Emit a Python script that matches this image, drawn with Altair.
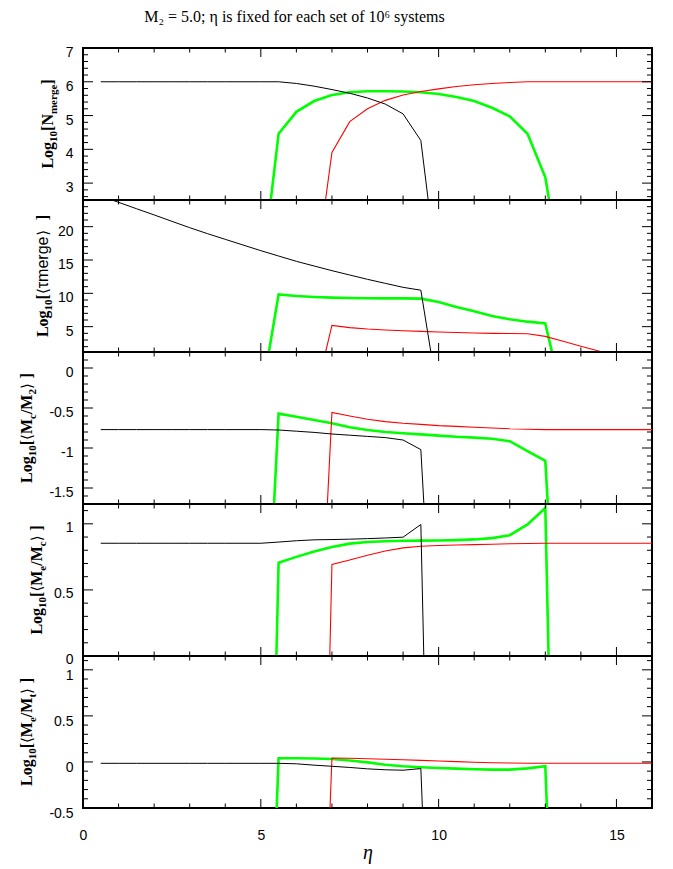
import altair as alt
import pandas as pd

# ---------------- data ----------------
X_BLACK = [0.5, 1.0, 1.5, 2.0, 2.5, 3.0, 3.5, 4.0, 4.5, 5.0, 5.5, 6.0, 6.5, 7.0, 7.5, 8.0, 8.5, 9.0, 9.5, 10.0]
X_GREEN = [5.0, 5.5, 6.0, 6.5, 7.0, 7.5, 8.0, 8.5, 9.0, 9.5, 10.0, 10.5, 11.0, 11.5, 12.0, 12.5, 13.0, 13.5]
X_RED = [6.5, 7.0, 7.5, 8.0, 8.5, 9.0, 9.5, 10.0, 10.5, 11.0, 11.5, 12.0, 12.5, 13.0, 13.5, 14.0, 14.5, 15.0, 15.5, 16.0]

# panel 1: Log10[N_merge]
NMERGE_BLACK = [6.0, 6.0, 6.0, 6.0, 6.0, 6.0, 6.0, 6.0, 6.0, 6.0, 6.0, 5.95, 5.87, 5.77, 5.66, 5.52, 5.34, 5.05, 4.26, 0.0]
NMERGE_GREEN = [0.0, 4.46, 5.11, 5.43, 5.61, 5.69, 5.72, 5.72, 5.71, 5.69, 5.64, 5.55, 5.43, 5.23, 4.98, 4.46, 3.17, 0.0]
NMERGE_RED = [0.0, 3.91, 4.82, 5.2, 5.45, 5.61, 5.71, 5.79, 5.86, 5.91, 5.95, 5.98, 6.0, 6.0, 6.0, 6.0, 6.0, 6.0, 6.0, 6.0]

# panel 2: Log10[<tau merge>]
TAU_BLACK = [24.6, 23.65, 22.7, 21.76, 20.8, 19.85, 18.95, 18.1, 17.25, 16.4, 15.6, 14.8, 14.1, 13.4, 12.75, 12.1, 11.5, 10.9, 10.47, -6.0]
TAU_GREEN = [-6.0, 9.85, 9.6, 9.45, 9.35, 9.3, 9.27, 9.25, 9.25, 9.2, 8.7, 7.95, 7.3, 6.6, 6.1, 5.75, 5.5, -6.0]
TAU_RED = [-6.0, 5.2, 4.85, 4.64, 4.5, 4.38, 4.29, 4.2, 4.12, 4.06, 4.0, 3.97, 3.94, 3.54, 2.8, 2.07, 1.34, 0.61, -0.12, -0.85]

# panel 3: Log10[<Mc/M2>]
MCM2_BLACK = [-0.77, -0.77, -0.77, -0.77, -0.77, -0.77, -0.77, -0.77, -0.77, -0.77, -0.775, -0.79, -0.805, -0.825, -0.84, -0.855, -0.87, -0.9, -1.02, -5.0]
MCM2_GREEN = [-5.0, -0.57, -0.61, -0.65, -0.69, -0.74, -0.775, -0.8, -0.815, -0.83, -0.845, -0.86, -0.87, -0.885, -0.915, -1.04, -1.16, -5.0]
MCM2_RED = [-5.0, -0.555, -0.6, -0.64, -0.67, -0.69, -0.705, -0.72, -0.73, -0.74, -0.75, -0.76, -0.765, -0.77, -0.77, -0.77, -0.77, -0.77, -0.77, -0.77]

# panel 4: Log10[<Me/Mc>]
MEMC_BLACK = [0.853, 0.853, 0.853, 0.853, 0.853, 0.853, 0.853, 0.853, 0.853, 0.853, 0.862, 0.872, 0.879, 0.881, 0.884, 0.888, 0.893, 0.899, 0.995, -5.0]
MEMC_GREEN = [-5.0, 0.705, 0.75, 0.79, 0.825, 0.85, 0.862, 0.868, 0.872, 0.873, 0.874, 0.877, 0.882, 0.892, 0.914, 0.995, 1.12, -5.0]
MEMC_RED = [-5.0, 0.692, 0.727, 0.762, 0.795, 0.818, 0.83, 0.836, 0.84, 0.843, 0.846, 0.849, 0.851, 0.853, 0.853, 0.853, 0.853, 0.853, 0.853, 0.853]

# panel 5: Log10[<Me/Mt>]
MEMT_BLACK = [-0.015, -0.015, -0.015, -0.015, -0.015, -0.015, -0.015, -0.015, -0.015, -0.015, -0.015, -0.02, -0.035, -0.047, -0.06, -0.075, -0.085, -0.09, -0.072, -5.0]
MEMT_GREEN = [-5.0, 0.04, 0.04, 0.038, 0.032, 0.015, -0.005, -0.03, -0.047, -0.058, -0.066, -0.073, -0.079, -0.083, -0.083, -0.07, -0.047, -5.0]
MEMT_RED = [-5.0, 0.043, 0.04, 0.035, 0.03, 0.024, 0.017, 0.01, 0.003, -0.003, -0.008, -0.012, -0.014, -0.015, -0.015, -0.015, -0.015, -0.015, -0.015, -0.015]

# ticks / labels
X_LABELS = [0, 5, 10, 15]
X_MAJOR = [0, 5, 10, 15]
X_MINOR = [1, 2, 3, 4, 6, 7, 8, 9, 11, 12, 13, 14]

P1_LABELS = [3, 4, 5, 6, 7]
P1_MINOR = [2.6, 2.8, 3.2, 3.4, 3.6, 3.8, 4.2, 4.4, 4.6, 4.8, 5.2, 5.4, 5.6, 5.8, 6.2, 6.4, 6.6, 6.8]
P2_LABELS = [5, 10, 15, 20]
P2_MINOR = [2, 3, 4, 6, 7, 8, 9, 11, 12, 13, 14, 16, 17, 18, 19, 21, 22, 23]
P3_LABELS = [-1.5, -1, -0.5, 0]
P3_MINOR = [-1.6, -1.4, -1.3, -1.2, -1.1, -0.9, -0.8, -0.7, -0.6, -0.4, -0.3, -0.2, -0.1, 0.1]
P4_LABELS = [0, 0.5, 1]
P4_MINOR = [0.1, 0.2, 0.3, 0.4, 0.6, 0.7, 0.8, 0.9, 1.1]
P5_LABELS = [-0.5, 0, 0.5, 1]
P5_MINOR = [-0.4, -0.3, -0.2, -0.1, 0.1, 0.2, 0.3, 0.4, 0.6, 0.7, 0.8, 0.9, 1.1]

TITLE = "M₂ = 5.0; η is fixed for each set of 10⁶ systems"

# ---------------- styling helpers ----------------
W, H = 569, 152
MAIN = dict(font="Liberation Serif", fontWeight="bold", fontSize=16)
SUB = dict(font="Liberation Serif", fontWeight="bold", fontSize=11)
SANS = dict(font="Liberation Sans", fontWeight="normal", fontSize=16)
BRK = dict(font="DejaVu Sans", fontWeight="normal", fontSize=15)

TIMES_B = {'L': .667, 'o': .5, 'g': .5, '1': .5, '0': .5, '2': .5, '[': .333, ']': .333, 'N': .722,
           'M': .944, 'm': .833, 'e': .444, 'r': .444, 'c': .444, 't': .333, '/': .278, ' ': .25}
HELV = {'τ': .45, 'm': .833, 'e': .556, 'r': .333, 'g': .556, ' ': .278}
DJV = {'⟨': .39, '⟩': .39, ' ': .318}


def text_width(t, st):
    table = TIMES_B if st["font"] == "Liberation Serif" else (HELV if st["font"] == "Liberation Sans" else DJV)
    return sum(table.get(ch, .5) for ch in t) * st["fontSize"]


def ytitle_layers(pieces, base_x):
    total = sum(text_width(t, st) for t, st in pieces)
    y = H / 2 + total / 2
    out = []
    for t, st in pieces:
        dx = 4 if st is SUB else 0
        out.append(
            alt.Chart(pd.DataFrame({"t": [t]}))
            .mark_text(angle=270, align="left", baseline="alphabetic", color="black", **st)
            .encode(text="t:N", x=alt.value(base_x + dx), y=alt.value(y))
        )
        y -= text_width(t, st)
    return out


def panel(series, ydom, ylabels, yminor, pieces, title_x, label_offset=4.5, bottom=False, top=False):
    black, green, red = series
    xscale = alt.Scale(domain=[0, 16], nice=False, zero=False)
    yscale = alt.Scale(domain=ydom, nice=False, zero=False)
    if bottom:
        xaxis = alt.Axis(values=X_LABELS, labelExpr="'' + datum.value", ticks=False, domain=False,
                         grid=False, labelPadding=20, labelFlush=False, labelOverlap=False,
                         title="η", titleFont="Liberation Serif", titleFontStyle="italic",
                         titleFontWeight="normal", titleFontSize=20, titlePadding=0, titleColor="black")
    else:
        xaxis = None
    xenc = alt.X("x:Q", scale=xscale, axis=xaxis)
    yaxis = alt.Axis(values=ylabels, labelExpr="'' + datum.value", ticks=False, domain=False, grid=False,
                     labelPadding=10, labelOffset=label_offset, labelFlush=False, labelOverlap=False, title=None)
    yenc = alt.Y("y:Q", scale=yscale, axis=yaxis)

    layers = []
    for xs, ys, color, sw in [(X_GREEN, green, "#00ff00", 2.6), (X_RED, red, "#ff0000", 1.1),
                              (X_BLACK, black, "#000000", 1.0)]:
        df = pd.DataFrame({"x": xs, "y": ys})
        layers.append(alt.Chart(df).mark_line(clip=True, color=color, strokeWidth=sw).encode(x=xenc, y=yenc))

    for vals, L in [(X_MAJOR, 9), (X_MINOR, 4.5)]:
        d = pd.DataFrame({"x": vals})
        layers.append(alt.Chart(d).mark_rule(color="black", strokeWidth=1)
                      .encode(x=xenc, y=alt.value(H), y2=alt.value(H - L)))
        layers.append(alt.Chart(d).mark_rule(color="black", strokeWidth=1)
                      .encode(x=xenc, y=alt.value(0), y2=alt.value(L)))
    for vals, L in [(ylabels, 10), (yminor, 5)]:
        d = pd.DataFrame({"y": vals})
        layers.append(alt.Chart(d).mark_rule(color="black", strokeWidth=1)
                      .encode(y=yenc, x=alt.value(0), x2=alt.value(L)))
        layers.append(alt.Chart(d).mark_rule(color="black", strokeWidth=1)
                      .encode(y=yenc, x=alt.value(W), x2=alt.value(W - L)))

    layers += ytitle_layers(pieces, title_x)

    if top:
        layers.append(
            alt.Chart(pd.DataFrame({"t": [TITLE]}))
            .mark_text(align="center", baseline="top", font="Liberation Serif", fontSize=16, color="black")
            .encode(text="t:N", x=alt.value(211.5), y=alt.value(-39))
        )
    return alt.layer(*layers).properties(width=W, height=H)


LOG = [("Log", MAIN), ("10", SUB)]
p1 = panel((NMERGE_BLACK, NMERGE_GREEN, NMERGE_RED), [2.5, 7], P1_LABELS, P1_MINOR,
           LOG + [("[N", MAIN), ("merge", SUB), ("]", MAIN)], -30, top=True)
p2 = panel((TAU_BLACK, TAU_GREEN, TAU_RED), [1.2, 24], P2_LABELS, P2_MINOR,
           LOG + [("[", MAIN), ("⟨", BRK), ("τmerge", SANS), ("  ⟩", BRK), ("]", MAIN)], -35)
p3 = panel((MCM2_BLACK, MCM2_GREEN, MCM2_RED), [-1.7, 0.2], P3_LABELS, P3_MINOR,
           LOG + [("[", MAIN), ("⟨", BRK), ("M", MAIN), ("c", SUB), ("/M", MAIN), ("2", SUB), (" ⟩", BRK), ("]", MAIN)], -51)
p4 = panel((MEMC_BLACK, MEMC_GREEN, MEMC_RED), [0, 1.15], P4_LABELS, P4_MINOR,
           LOG + [("[", MAIN), ("⟨", BRK), ("M", MAIN), ("e", SUB), ("/M", MAIN), ("c", SUB), (" ⟩", BRK), ("]", MAIN)], -41,
           label_offset=3.5)
p5 = panel((MEMT_BLACK, MEMT_GREEN, MEMT_RED), [-0.5, 1.15], P5_LABELS, P5_MINOR,
           LOG + [("[", MAIN), ("⟨", BRK), ("M", MAIN), ("e", SUB), ("/M", MAIN), ("t", SUB), (" ⟩", BRK), ("]", MAIN)], -51,
           label_offset=5.5, bottom=True)

chart = (
    alt.vconcat(p1, p2, p3, p4, p5, spacing=0, bounds="flush")
    .properties(padding={"left": 10, "top": 0, "right": 5, "bottom": 5}, background="white")
    .configure_view(stroke="black", strokeWidth=2)
    .configure_axis(labelFont="Liberation Sans", labelFontSize=14, labelColor="black")
)

chart.save("out.html", embed_options={"renderer": "svg", "actions": False})
